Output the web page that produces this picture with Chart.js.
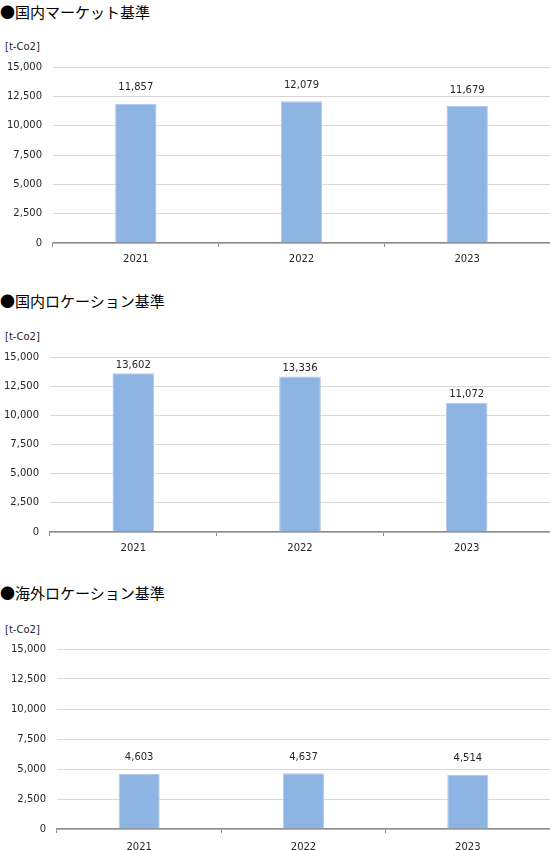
<!DOCTYPE html>
<html lang="ja">
<head>
<meta charset="utf-8">
<script src="https://cdn.jsdelivr.net/npm/chart.js@4/dist/chart.umd.min.js"></script>
<style>
    body { margin: 0; background: #fff; width: 550px; height: 850px; position: relative; overflow: hidden; }
    .title { position: absolute; left: 0; font-family: "Noto Sans CJK JP", sans-serif; font-size: 15px; color: #000; line-height: 18px; white-space: nowrap; }
    .unit  { position: absolute; left: 5px; font-family: "DejaVu Sans", sans-serif; font-size: 10px; color: #262626; line-height: 12px; }
    canvas { position: absolute; left: 0; }
</style>
</head>
<body>
<div class="title" style="top:3px;">●国内マーケット基準</div>
<div class="unit" style="top:41px;">[t-Co2]</div>
<div style="position:absolute;left:0;top:50px;width:550px;height:220px;"><canvas id="market-chart"></canvas></div>

<div class="title" style="top:292px;">●国内ロケーション基準</div>
<div class="unit" style="top:331px;">[t-Co2]</div>
<div style="position:absolute;left:0;top:340px;width:550px;height:220px;"><canvas id="location-chart"></canvas></div>

<div class="title" style="top:584px;">●海外ロケーション基準</div>
<div class="unit" style="top:624px;">[t-Co2]</div>
<div style="position:absolute;left:0;top:632px;width:550px;height:218px;"><canvas id="overseas-chart"></canvas></div>

<script>
const YEARS           = ["2021", "2022", "2023"];
const MARKET_VALUES   = [11857, 12079, 11679];
const LOCATION_VALUES = [13602, 13336, 11072];
const OVERSEAS_VALUES = [4603, 4637, 4514];
const Y_TICKS         = [0, 2500, 5000, 7500, 10000, 12500, 15000];

const BAR_COLOR    = '#8EB4E3';
const BAR_BORDER   = '#B0CAEC';
const GRID_COLOR   = '#D9D9D9';
const AXIS_COLOR   = '#8C8C8C';
const TEXT_COLOR   = '#262626';
const FONT_FAMILY  = '"DejaVu Sans", sans-serif';

/**
 * 棒の上に数値を描く
 */
const valueLabels = {
    id: 'valueLabels',
    afterDatasetsDraw(chart, args, opts) {
        const ctx  = chart.ctx;
        const meta = chart.getDatasetMeta(0);
        const values = chart.data.datasets[0].data;
        ctx.save();
        ctx.font = `10px ${FONT_FAMILY}`;
        ctx.fillStyle = TEXT_COLOR;
        ctx.textAlign = 'center';
        ctx.textBaseline = 'middle';
        for (let i = 0; i < meta.data.length; i++) {
            const bar = meta.data[i];
            ctx.fillText(values[i].toLocaleString('en-US'), bar.x, bar.y - opts.offset);
        }
        ctx.restore();
    }
};

/**
 * 棒グラフの作成 ==========================================================
 */
function chartBar(id, values, yWidth, xHeight, xPadding, labelOffset) {
    const data = {
        labels: YEARS,
        datasets: [
            {
                data: values,
                backgroundColor: BAR_COLOR,
                borderColor: BAR_BORDER,
                borderWidth: 1,
                categoryPercentage: 1.0,
                barPercentage: 0.25,
            }
        ],
    };

    const config = {
        type: 'bar',
        data: data,
        options: {
            responsive: true,
            maintainAspectRatio: false,
            animation: false,
            layout: { padding: { top: 7, right: 0, bottom: 0, left: 0 } },
            plugins: {
                legend: { display: false },
                tooltip: { enabled: false },
                valueLabels: { offset: labelOffset },
            },
            scales: {
                x: {
                    offset: true,
                    grid: {
                        display: true,
                        offset: true,
                        drawOnChartArea: false,
                        drawTicks: true,
                        tickLength: 4,
                        color: AXIS_COLOR,
                    },
                    border: { display: true, color: AXIS_COLOR, width: 1.5 },
                    ticks: {
                        color: TEXT_COLOR,
                        padding: xPadding,
                        font: { family: FONT_FAMILY, size: 10 },
                        maxRotation: 0,
                    },
                    afterFit: function(scale) { scale.height = xHeight; },
                },
                y: {
                    min: 0,
                    max: 15000,
                    afterBuildTicks: function(scale) {
                        scale.ticks = Y_TICKS.map(v => ({ value: v }));
                    },
                    grid: { color: GRID_COLOR, drawTicks: false, lineWidth: 1 },
                    border: { display: false },
                    ticks: {
                        color: TEXT_COLOR,
                        padding: 11,
                        font: { family: FONT_FAMILY, size: 10 },
                        callback: function(v) { return Number(v).toLocaleString('en-US'); },
                    },
                    afterFit: function(scale) { scale.width = yWidth; },
                },
            }
        },
        plugins: [valueLabels],
    };

    // 描画処理
    return new Chart(document.getElementById(id), config);
}

chartBar("market-chart",   MARKET_VALUES,   53, 27, 6, 16);
chartBar("location-chart", LOCATION_VALUES, 50, 28, 6, 8);
chartBar("overseas-chart", OVERSEAS_VALUES, 57, 21, 8, 16);
</script>
</body>
</html>
